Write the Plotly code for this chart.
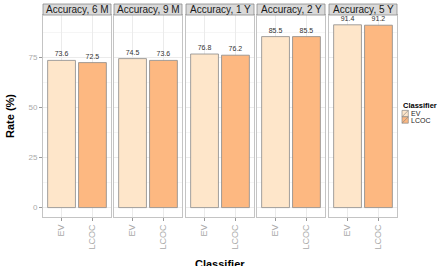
import plotly.graph_objects as go

panels = ["Accuracy, 6 M", "Accuracy, 9 M", "Accuracy, 1 Y", "Accuracy, 2 Y", "Accuracy, 5 Y"]
classifiers = ["EV", "LCOC"]
ev_vals = [73.6, 74.5, 76.8, 85.5, 91.4]
lcoc_vals = [72.5, 73.6, 76.2, 85.5, 91.2]
colors = {"EV": "#FEE6CA", "LCOC": "#FDB881"}

W, H = 438, 266
panel_px = [(43, 111), (114, 182), (186, 254), (257, 325), (329, 397)]
top_px, bot_px = 15, 217
strip_top = 4
FONT = "Liberation Sans, Arial, sans-serif"

fig = go.Figure()
layout = dict(
    width=W, height=H, margin=dict(l=0, r=0, t=0, b=0),
    plot_bgcolor="white", paper_bgcolor="white",
    barmode="overlay", font=dict(family=FONT, size=9, color="#4d4d4d"),
    showlegend=False,
)
shapes, annotations = [], []
ydom = [1 - bot_px / H, 1 - top_px / H]


def px(x):
    return x / W


def py(y):
    return 1 - y / H


for i, p in enumerate(panels):
    n = "" if i == 0 else str(i + 1)
    xa = "x" + n
    ya = "y" + n
    for cls, vals in (("EV", ev_vals), ("LCOC", lcoc_vals)):
        fig.add_trace(go.Bar(
            x=[cls], y=[vals[i]], name=cls, legendgroup=cls,
            marker=dict(color=colors[cls], line=dict(color="#8a8a8a", width=0.8)),
            width=0.9, text=[f"{vals[i]:.1f}"], textposition="outside",
            textfont=dict(size=7, color="#333333", family=FONT), cliponaxis=False,
            xaxis=xa, yaxis=ya,
        ))
    x0, x1 = panel_px[i]
    layout["xaxis" + n] = dict(
        domain=[px(x0), px(x1)], anchor=ya, type="category",
        categoryorder="array", categoryarray=classifiers, range=[-0.6, 1.6],
        showgrid=True, gridcolor="#ebebeb", gridwidth=0.6,
        showline=True, mirror=True, linecolor="#c4c4c4", linewidth=1,
        ticks="outside", ticklen=3, tickcolor="#999999", tickangle=-90,
        tickfont=dict(size=9, color="#aaaaaa"), zeroline=False, fixedrange=True,
    )
    layout["yaxis" + n] = dict(
        domain=ydom, anchor=xa, range=[-4.7, 96.3],
        tickvals=[0, 25, 50, 75], showticklabels=(i == 0),
        ticks="outside" if i == 0 else "", ticklen=3, tickcolor="#999999",
        tickfont=dict(size=8, color="#aaaaaa"),
        showgrid=True, gridcolor="#ebebeb", gridwidth=0.6,
        minor=dict(tickvals=[12.5, 37.5, 62.5, 87.5], showgrid=True, gridcolor="#f5f5f5", gridwidth=0.4),
        showline=True, mirror=True, linecolor="#c4c4c4", linewidth=1,
        zeroline=False, fixedrange=True,
    )
    shapes.append(dict(type="rect", xref="paper", yref="paper",
                       x0=px(x0), x1=px(x1), y0=py(top_px), y1=py(strip_top),
                       fillcolor="#d9d9d9", line=dict(color="#8c8c8c", width=0.8)))
    annotations.append(dict(text=p, xref="paper", yref="paper", x=px((x0 + x1) / 2),
                            y=py((top_px + strip_top) / 2), showarrow=False,
                            font=dict(size=10, color="#1a1a1a", family=FONT),
                            xanchor="center", yanchor="middle"))

annotations.append(dict(text="<b>Rate (%)</b>", xref="paper", yref="paper", x=px(10),
                        y=py((top_px + bot_px) / 2), textangle=-90, showarrow=False,
                        font=dict(size=11, color="#000000", family=FONT),
                        xanchor="center", yanchor="middle"))
annotations.append(dict(text="<b>Classifier</b>", xref="paper", yref="paper", x=px(220),
                        y=py(263.5), showarrow=False,
                        font=dict(size=11, color="#000000", family=FONT),
                        xanchor="center", yanchor="middle"))

# manual legend (ggplot-style compact keys)
annotations.append(dict(text="<b>Classifier</b>", xref="paper", yref="paper", x=px(401),
                        y=py(105.5), showarrow=False, xanchor="left", yanchor="middle",
                        font=dict(size=7.5, color="#000000", family=FONT)))
key_y = {"EV": (110.4, 116.8), "LCOC": (116.8, 123.2)}
for cls in classifiers:
    y0, y1 = key_y[cls]
    shapes.append(dict(type="rect", xref="paper", yref="paper",
                       x0=px(402), x1=px(408.3), y0=py(y1), y1=py(y0),
                       fillcolor=colors[cls], line=dict(color="#8a8a8a", width=0.7)))
    shapes.append(dict(type="line", xref="paper", yref="paper",
                       x0=px(402), x1=px(408.3), y0=py(y1), y1=py(y0),
                       line=dict(color="#8a8a8a", width=0.7)))
    annotations.append(dict(text=cls, xref="paper", yref="paper", x=px(408.5),
                            y=py((y0 + y1) / 2), showarrow=False, xanchor="left",
                            yanchor="middle", font=dict(size=7, color="#222222", family=FONT)))

layout["shapes"] = shapes
layout["annotations"] = annotations
fig.update_layout(**layout)
fig.write_html("out.html")
